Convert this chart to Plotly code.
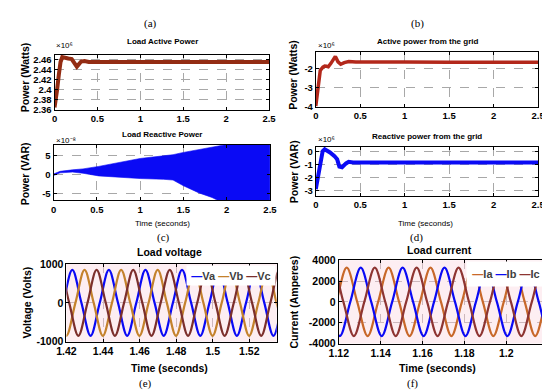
import plotly.graph_objects as go

W, H = 550, 391
SANS = "Liberation Sans"
SERIF = "Liberation Serif"

# ---------------- data ----------------
# (a) Load active power, x10^6 W
t_load_p = [0, 0.015, 0.03, 0.05, 0.07, 0.09, 0.12, 0.16, 0.2, 0.22, 0.24, 0.26, 0.28,
            0.31, 0.35, 0.4, 0.5, 0.7, 1.0, 1.3, 1.6, 1.9, 2.2, 2.5]
load_p = [2.365, 2.38, 2.40, 2.43, 2.455, 2.465, 2.463, 2.462, 2.461, 2.455, 2.448, 2.446, 2.45,
          2.456, 2.457, 2.455, 2.455, 2.455, 2.4555, 2.455, 2.455, 2.4555, 2.455, 2.455]

# (b) Active power from the grid, x10^6 W
t_grid_p = [0, 0.02, 0.05, 0.08, 0.1, 0.12, 0.14, 0.17, 0.19, 0.22, 0.25, 0.28, 0.32,
            0.37, 0.45, 0.6, 1.0, 1.5, 2.0, 2.5]
grid_p = [-3.98, -3.2, -2.08, -1.9, -1.85, -1.86, -1.88, -1.7, -1.57, -1.33, -1.62, -1.75, -1.66,
          -1.6, -1.63, -1.64, -1.63, -1.64, -1.63, -1.64]

# (c) Load reactive power envelope, x10^-8 VAR
t_load_q = [0, 0.075, 0.22, 0.34, 0.52, 0.71, 1.0, 1.27, 1.38, 1.5, 1.68, 1.83, 1.9, 2.0, 2.5]
load_q_hi = [0.1, 0.8, 1.2, 1.45, 2.1, 2.95, 4.2, 4.9, 5.2, 5.8, 6.5, 7.1, 7.4, 7.9, 9.0]
load_q_lo = [-0.3, 0.4, 0.6, 0.3, -0.4, -0.7, -1.1, -1.3, -1.5, -3.0, -4.9, -6.1, -6.8, -8.0, -9.5]

# (d) Reactive power from the grid, x10^6 VAR
t_grid_q = [0, 0.02, 0.04, 0.077, 0.1, 0.13, 0.16, 0.21, 0.24, 0.265, 0.295, 0.34, 0.37,
            0.42, 0.5, 0.8, 1.2, 1.6, 2.0, 2.5]
grid_q = [-2.9, -2.2, -1.1, 0.05, 0.2, 0.1, -0.05, -0.33, -0.58, -1.15, -1.2, -0.9, -0.78,
          -0.82, -0.83, -0.82, -0.83, -0.82, -0.83, -0.82]

# (e) Load voltage (V): peak / zero samples of each phase
t_va = [1.4132, 1.4182, 1.4232, 1.4282, 1.4332, 1.4382, 1.4432, 1.4482, 1.4532, 1.4582,
        1.4632, 1.4682, 1.4732, 1.4782, 1.4832, 1.4882, 1.4932, 1.4982, 1.5032, 1.5082,
        1.5132, 1.5182, 1.5232, 1.5282, 1.5332, 1.5382, 1.5432]
va = [-850, 0, 850, 0, -850, 0, 850, 0, -850, 0, 850, 0, -850, 0, 850, 0, -850, 0, 850, 0,
      -850, 0, 850, 0, -850, 0, 850]
t_vb = [1.4149, 1.4199, 1.4249, 1.4299, 1.4349, 1.4399, 1.4449, 1.4499, 1.4549, 1.4599,
        1.4649, 1.4699, 1.4749, 1.4799, 1.4849, 1.4899, 1.4949, 1.4999, 1.5049, 1.5099,
        1.5149, 1.5199, 1.5249, 1.5299, 1.5349, 1.5399]
vb = [0, -850, 0, 850, 0, -850, 0, 850, 0, -850, 0, 850, 0, -850, 0, 850, 0, -850, 0, 850,
      0, -850, 0, 850, 0, -850]
t_vc = [1.4115, 1.4165, 1.4215, 1.4265, 1.4315, 1.4365, 1.4415, 1.4465, 1.4515, 1.4565,
        1.4615, 1.4665, 1.4715, 1.4765, 1.4815, 1.4865, 1.4915, 1.4965, 1.5015, 1.5065,
        1.5115, 1.5165, 1.5215, 1.5265, 1.5315, 1.5365, 1.5415]
vc = [0, 850, 0, -850, 0, 850, 0, -850, 0, 850, 0, -850, 0, 850, 0, -850, 0, 850, 0, -850,
      0, 850, 0, -850, 0, 850, 0]

# (f) Load current (A): peak / zero samples of each phase
t_ia = [1.1138, 1.1188, 1.1238, 1.1288, 1.1338, 1.1388, 1.1438, 1.1488, 1.1538, 1.1588,
        1.1638, 1.1688, 1.1738, 1.1788, 1.1838, 1.1888, 1.1938, 1.1988, 1.2038, 1.2088,
        1.2138, 1.2188, 1.2238]
ia = [-3280, 0, 3280, 0, -3280, 0, 3280, 0, -3280, 0, 3280, 0, -3280, 0, 3280, 0, -3280, 0,
      3280, 0, -3280, 0, 3280]
t_ib = [1.1155, 1.1205, 1.1255, 1.1305, 1.1355, 1.1405, 1.1455, 1.1505, 1.1555, 1.1605,
        1.1655, 1.1705, 1.1755, 1.1805, 1.1855, 1.1905, 1.1955, 1.2005, 1.2055, 1.2105,
        1.2155, 1.2205, 1.2255]
ib = [0, -3280, 0, 3280, 0, -3280, 0, 3280, 0, -3280, 0, 3280, 0, -3280, 0, 3280, 0, -3280,
      0, 3280, 0, -3280, 0]
t_ic = [1.1122, 1.1172, 1.1222, 1.1272, 1.1322, 1.1372, 1.1422, 1.1472, 1.1522, 1.1572,
        1.1622, 1.1672, 1.1722, 1.1772, 1.1822, 1.1872, 1.1922, 1.1972, 1.2022, 1.2072,
        1.2122, 1.2172, 1.2222]
ic = [0, 3280, 0, -3280, 0, 3280, 0, -3280, 0, 3280, 0, -3280, 0, 3280, 0, -3280, 0, 3280,
      0, -3280, 0, 3280, 0]

# tick labels
ticks_0_25 = [0, 0.5, 1, 1.5, 2, 2.5]
ticks_0_25_txt = ["0", "0.5", "1", "1.5", "2", "2.5"]
ticks_a = [2.36, 2.38, 2.40, 2.42, 2.44, 2.46]
ticks_a_txt = ["2.36", "2.38", "2.4", "2.42", "2.44", "2.46"]
ticks_b = [-4, -3, -2]
ticks_c = [-5, 0, 5]
ticks_d = [-3, -2, -1, 0]
ticks_e_x = [1.42, 1.44, 1.46, 1.48, 1.50, 1.52]
ticks_e_x_txt = ["1.42", "1.44", "1.46", "1.48", "1.5", "1.52"]
ticks_e_y = [-1000, 0, 1000]
ticks_f_x = [1.12, 1.14, 1.16, 1.18, 1.20]
ticks_f_x_txt = ["1.12", "1.14", "1.16", "1.18", "1.2"]
ticks_f_y = [-4000, -2000, 0, 2000, 4000]

# colours
C_LOADP = "#932c13"
C_GRIDP = "#b3281b"
C_BLUE = "#0a0af5"
C_VB = "#c4822c"
C_VC = "#7c2f2c"
C_IA = "#c8682a"
C_IC = "#8e3532"

fig = go.Figure()

def line(x, y, ax, color, width, shape="linear", **kw):
    n = "" if ax == 1 else str(ax)
    fig.add_trace(go.Scatter(x=x, y=y, xaxis="x" + n, yaxis="y" + n, mode="lines",
                             line=dict(color=color, width=width, shape=shape, smoothing=1.0),
                             hoverinfo="skip", **kw))

line(t_load_p, load_p, 1, C_LOADP, 4)
line(t_grid_p, grid_p, 2, C_GRIDP, 3.5)
line(t_load_q, load_q_lo, 3, C_BLUE, 0.6)
line(t_load_q, load_q_hi, 3, C_BLUE, 0.6, fill="tonexty", fillcolor=C_BLUE)
line(t_grid_q, grid_q, 4, C_BLUE, 4)
line(t_va, va, 5, C_BLUE, 2.2, "spline")
line(t_vb, vb, 5, C_VB, 2.2, "spline")
line(t_vc, vc, 5, C_VC, 2.2, "spline")
line(t_ia, ia, 6, C_IA, 2.2, "spline")
line(t_ib, ib, 6, C_BLUE, 2.2, "spline")
line(t_ic, ic, 6, C_IC, 2.2, "spline")


def axis(dom_px, horizontal, anchor, rng, tickvals, ticktext, fsize, gridcolor):
    if horizontal:
        dom = [dom_px[0] / W, dom_px[1] / W]
    else:
        dom = [1 - dom_px[1] / H, 1 - dom_px[0] / H]
    return dict(domain=dom, anchor=anchor, range=rng, tickvals=tickvals, ticktext=ticktext,
                ticks="inside", ticklen=3, tickwidth=1, tickcolor="black",
                showline=True, linecolor="black", linewidth=1, mirror="ticks",
                showgrid=True, gridcolor=gridcolor, griddash="dash", gridwidth=1,
                zeroline=False, fixedrange=True,
                tickfont=dict(family=SANS, size=fsize, color="black", weight="bold"))

G1 = "#a8a8a8"
G2 = "#cdb8bd"
layout_axes = dict(
    xaxis=axis([37.7, 259], True, "y", [0, 2.5], ticks_0_25, ticks_0_25_txt, 9.5, G1),
    yaxis=axis([42, 99], False, "x", [2.36, 2.4696], ticks_a, ticks_a_txt, 9.5, G1),
    xaxis2=axis([307.3, 536.7], True, "y2", [0, 2.5], ticks_0_25, ticks_0_25_txt, 9.5, G1),
    yaxis2=axis([39.3, 96], False, "x2", [-4.03, -1.1], ticks_b, [str(v) for v in ticks_b], 9.5, G1),
    xaxis3=axis([36.7, 260], True, "y3", [0, 2.5], ticks_0_25, ticks_0_25_txt, 9.5, G1),
    yaxis3=axis([135, 192], False, "x3", [-6.8, 7.8], ticks_c, [str(v) for v in ticks_c], 9.5, G1),
    xaxis4=axis([307.3, 536.7], True, "y4", [0, 2.5], ticks_0_25, ticks_0_25_txt, 9.5, G1),
    yaxis4=axis([137.3, 187.3], False, "x4", [-3.4, 0.37], ticks_d, [str(v) for v in ticks_d], 9.5, G1),
    xaxis5=axis([50, 267], True, "y5", [1.42, 1.535], ticks_e_x, ticks_e_x_txt, 10.5, G2),
    yaxis5=axis([258, 338], False, "x5", [-1000, 1000], ticks_e_y, [str(v) for v in ticks_e_y], 10.5, G2),
    xaxis6=axis([331, 546], True, "y6", [1.12, 1.2195], ticks_f_x, ticks_f_x_txt, 10.5, G2),
    yaxis6=axis([254, 340], False, "x6", [-4000, 4000], ticks_f_y, [str(v) for v in ticks_f_y], 10.5, G2),
)


def ann(text, x, y, size, bold=False, family=SANS, angle=0, xanchor="center", yanchor="middle", **kw):
    if bold:
        text = "<b>" + text + "</b>"
    return dict(text=text, x=x / W, y=1 - y / H, xref="paper", yref="paper", showarrow=False,
                font=dict(family=family, size=size, color="black"), textangle=angle,
                xanchor=xanchor, yanchor=yanchor, **kw)

annotations = [
    ann("(a)", 137, 10, 11, family=SERIF),
    ann("(b)", 412, 10, 11, family=SERIF),
    ann("Load Active Power", 149, 28.5, 8, True),
    ann("Active power from the grid", 423, 28.5, 8, True),
    ann("Load Reactive Power", 149, 124.5, 8, True),
    ann("Reactive power from the grid", 422, 126.5, 8, True),
    ann("×10⁶", 37.5, 32.5, 8, xanchor="left"),
    ann("×10⁻⁸", 37.0, 130.5, 8, xanchor="left"),
    ann("×10⁶", 307.3, 32, 8, xanchor="left"),
    ann("×10⁶", 308, 129.5, 8, xanchor="left"),
    ann("Power (Watts)", 7.5, 65, 10.5, True, angle=-90),
    ann("Power (VAR)", 7.5, 165, 10.5, True, angle=-90),
    ann("Power (Watts)", 283.5, 63, 10.5, True, angle=-90),
    ann("Power (VAR)", 285, 163, 10.5, True, angle=-90),
    ann("Time (seconds)", 149.5, 215.7, 8),
    ann("Time (seconds)", 421, 215.7, 8),
    ann("(c)", 150, 231, 11, family=SERIF),
    ann("(d)", 411.5, 231, 11, family=SERIF),
    ann("Load voltage", 156, 246, 10.5, True),
    ann("Load current", 435, 243.3, 10.5, True),
    ann("Voltage (Volts)", 9.5, 297.5, 10.5, True, angle=-90),
    ann("Current (Amperes)", 285, 297.5, 10.5, True, angle=-90),
    ann("Time (seconds)", 156, 365, 10.5, True),
    ann("Time (seconds)", 433, 365.7, 10.5, True),
    ann("(e)", 131.7, 381.7, 11, family=SERIF),
    ann("(f)", 406.7, 381.7, 11, family=SERIF),
]

# legends (white boxes inside the top-right corner, like the MATLAB legends)
annotations.append(dict(
    text=("<b><span style='color:%s'>—</span>Va <span style='color:%s'>—</span>Vb "
          "<span style='color:%s'>—</span>Vc</b>") % (C_BLUE, C_VB, C_VC),
    xref="x5 domain", yref="y5 domain", x=1, y=1, xanchor="right", yanchor="top",
    xshift=-1, yshift=-1, width=86, height=17, bgcolor="white", borderpad=1,
    showarrow=False, font=dict(family=SANS, size=11, color="#404040"), align="center"))
annotations.append(dict(
    text=("<b><span style='color:%s'>—</span>Ia <span style='color:%s'>—</span>Ib "
          "<span style='color:%s'>—</span>Ic</b>") % (C_IA, C_BLUE, C_IC),
    xref="x6 domain", yref="y6 domain", x=1, y=1, xanchor="right", yanchor="top",
    xshift=-1, yshift=-1, width=76, height=22, bgcolor="white", borderpad=1,
    showarrow=False, font=dict(family=SANS, size=11, color="#404040"), align="center"))

shapes = [
    dict(type="rect", xref="x5 domain", yref="y5 domain", x0=0, x1=1, y0=0, y1=1,
         fillcolor="#fdeef2", line=dict(width=0), layer="below"),
    dict(type="rect", xref="x6 domain", yref="y6 domain", x0=0, x1=1, y0=0, y1=1,
         fillcolor="#fdeef2", line=dict(width=0), layer="below"),
]

fig.update_layout(
    width=W, height=H, margin=dict(l=0, r=0, t=0, b=0),
    paper_bgcolor="white", plot_bgcolor="white", showlegend=False,
    annotations=annotations, shapes=shapes, **layout_axes)

fig.write_html("out.html")
